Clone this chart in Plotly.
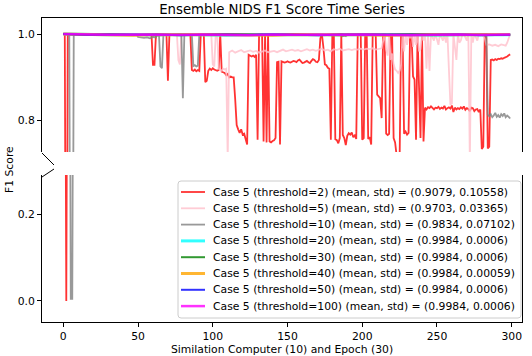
import plotly.graph_objects as go

# threshold=2
red_x = [0, 1, 2, 3, 59, 60, 61, 62, 69, 70, 71, 85, 86, 87, 88, 89, 90, 91, 92, 94,
         95, 96, 97, 98, 99, 100, 101, 102, 103, 104, 105, 106, 107, 108, 109, 110, 111, 112, 113, 114,
         115, 116, 117, 118, 119, 120, 121, 122, 123, 124, 125, 126, 127, 128, 129, 130, 131, 133, 134, 135,
         136, 137, 138, 139, 140, 141, 142, 143, 144, 145, 146, 147, 148, 149, 150, 151, 152, 153, 154, 155,
         156, 157, 158, 159, 160, 161, 162, 163, 164, 165, 166, 167, 168, 169, 170, 171, 172, 173, 174, 175,
         176, 177, 178, 179, 180, 181, 182, 183, 184, 185, 186, 187, 188, 189, 190, 191, 192, 193, 194, 195,
         196, 197, 199, 200, 201, 202, 203, 204, 205, 206, 207, 209, 210, 211, 212, 213, 214, 215, 216, 217,
         218, 219, 220, 221, 222, 223, 224, 225, 226, 227, 228, 229, 230, 231, 232, 233, 234, 235, 236, 237,
         238, 239, 240, 241, 242, 243, 244, 245, 246, 247, 248, 249, 250, 251, 252, 253, 254, 255, 256, 257,
         258, 259, 260, 261, 262, 263, 264, 265, 266, 267, 268, 269, 270, 271, 272, 273, 274, 275, 276, 277,
         278, 279, 280, 281, 282, 283, 284, 285, 286, 287, 288, 289, 290, 291, 292, 293, 294, 295, 296, 297,
         298, 299]
red_y = [1.0, 1.0, 0.0, 1.0, 1.0, 0.929, 0.929, 1.0, 1.0, 0.892, 1.0, 1.0, 0.917, 0.915, 0.918, 0.914, 0.917, 0.915, 1.0, 1.0,
         0.889, 0.892, 0.915, 0.92, 0.917, 0.921, 0.918, 0.916, 0.915, 0.917, 1.0, 0.913, 0.912, 0.91, 0.905, 0.908, 0.9, 0.902, 0.9, 0.9,
         0.85, 0.79, 0.78, 0.772, 0.78, 0.768, 0.77, 0.76, 0.745, 0.952, 0.95, 0.948, 0.95, 0.947, 0.952, 0.756, 1.0, 1.0, 0.752, 1.0,
         0.75, 1.0, 0.752, 0.75, 0.753, 0.755, 0.76, 0.935, 0.936, 0.745, 0.937, 0.936, 0.934, 0.935, 0.937, 0.935, 0.934, 0.936, 0.938, 0.937,
         0.935, 0.939, 0.941, 0.937, 0.933, 0.934, 0.936, 0.938, 0.935, 0.933, 0.938, 0.942, 0.94, 0.936, 0.935, 0.94, 0.99, 1.0, 0.97, 0.93,
         0.928, 0.922, 0.92, 0.756, 1.0, 1.0, 0.757, 0.755, 0.748, 0.76, 1.0, 0.767, 0.76, 0.744, 0.765, 0.771, 0.768, 0.773, 0.762, 0.766,
         0.758, 1.0, 1.0, 0.756, 0.76, 1.0, 1.0, 0.758, 0.762, 0.745, 1.0, 1.0, 0.86, 0.855, 0.852, 0.806, 1.0, 1.0, 0.77, 0.767,
         0.77, 1.0, 1.0, 0.76, 0.75, 0.72, 0.7, 0.705, 1.0, 1.0, 0.77, 0.775, 0.768, 0.772, 1.0, 1.0, 0.902, 0.895, 0.756, 1.0,
         0.885, 0.76, 1.0, 0.752, 0.83, 0.826, 0.831, 0.829, 0.833, 0.828, 0.826, 0.83, 0.829, 0.832, 0.827, 0.83, 0.828, 0.834, 0.826, 0.829,
         0.831, 0.828, 0.835, 0.82, 0.83, 0.826, 0.829, 0.827, 0.831, 0.828, 0.833, 0.825, 0.829, 0.827, 0.822, 0.83, 0.829, 0.822, 0.826, 0.827,
         0.82, 0.826, 0.735, 0.74, 1.0, 1.0, 0.736, 0.74, 0.94, 0.941, 0.939, 0.942, 0.94, 0.943, 0.942, 0.944, 0.943, 0.945, 0.946, 0.948,
         0.951, 0.953]

# threshold=5
pink_x = [0, 76, 77, 78, 79, 99, 100, 101, 102, 103, 104, 105, 106, 107, 108, 109, 110, 111, 113, 115,
          117, 119, 121, 123, 125, 127, 129, 131, 133, 135, 137, 139, 141, 143, 145, 147, 149, 151, 153, 155,
          157, 159, 161, 163, 165, 167, 169, 171, 173, 175, 177, 179, 181, 183, 185, 187, 189, 191, 193, 195,
          197, 199, 201, 203, 205, 207, 209, 211, 213, 215, 216, 217, 218, 219, 220, 221, 222, 223, 224, 225,
          226, 227, 228, 229, 230, 231, 232, 233, 234, 235, 236, 237, 238, 239, 240, 241, 242, 243, 244, 245,
          246, 248, 249, 251, 252, 254, 255, 256, 257, 259, 260, 261, 262, 263, 264, 265, 266, 267, 268, 270,
          271, 272, 273, 274, 275, 277, 278, 280, 282, 283, 285, 287, 289, 291, 293, 295, 296, 297, 298, 299]
pink_y = [1.0, 1.0, 0.94, 0.93, 1.0, 1.0, 0.93, 0.925, 1.0, 1.0, 0.92, 0.918, 0.915, 0.92, 0.918, 0.92, 0.714, 0.958, 0.962, 0.957,
          0.96, 0.963, 0.958, 0.96, 0.962, 0.959, 0.961, 0.957, 0.96, 0.962, 0.958, 0.96, 0.961, 0.958, 0.962, 0.964, 0.96, 0.962, 0.964, 0.961,
          0.963, 0.96, 0.962, 0.965, 0.962, 0.964, 0.961, 0.963, 0.966, 0.962, 0.964, 0.96, 0.965, 0.963, 0.966, 0.962, 0.964, 0.965, 0.963, 0.965,
          0.964, 0.966, 0.964, 0.966, 0.965, 0.967, 0.964, 0.966, 0.967, 1.0, 0.965, 0.95, 1.0, 0.94, 0.955, 0.93, 0.918, 0.915, 0.91, 0.915,
          0.93, 1.0, 0.96, 1.0, 0.975, 1.0, 0.99, 1.0, 0.97, 1.0, 0.975, 1.0, 0.96, 0.965, 1.0, 0.985, 1.0, 0.92, 1.0, 0.915,
          1.0, 0.985, 1.0, 0.975, 1.0, 0.985, 1.0, 0.98, 1.0, 0.837, 0.84, 1.0, 0.97, 0.94, 1.0, 0.98, 0.985, 1.0, 1.0, 0.985,
          1.0, 0.707, 1.0, 0.98, 1.0, 0.985, 1.0, 1.0, 0.99, 0.975, 0.976, 0.973, 0.975, 0.972, 0.976, 0.974, 0.973, 0.98, 0.99, 1.0]

# threshold=10
gray_x = [0, 4, 5, 6, 7, 49, 50, 52, 54, 56, 58, 60, 62, 63, 64, 65, 66, 67, 79, 80,
          81, 86, 87, 88, 89, 90, 91, 186, 187, 188, 189, 190, 283, 284, 285, 286, 287, 288, 289, 290,
          291, 292, 293, 294, 295, 296, 297, 298, 299]
gray_y = [1.0, 1.0, 0.005, 0.005, 1.0, 1.0, 0.993, 0.992, 0.991, 0.992, 0.99, 0.993, 0.992, 1.0, 1.0, 0.925, 0.921, 1.0, 1.0, 0.852,
          1.0, 1.0, 0.926, 0.928, 0.925, 0.927, 1.0, 1.0, 0.995, 0.996, 0.995, 1.0, 1.0, 0.814, 0.81, 0.815, 0.808, 0.812, 0.818, 0.809,
          0.813, 0.807, 0.815, 0.811, 0.817, 0.808, 0.812, 0.809, 0.805]

# thresholds 20..100 stay right under 1.0
flat_x = [0, 16, 31, 47, 62, 78, 93, 109, 124, 140, 155, 171, 186, 202, 217, 233, 248, 264, 279, 299]
t20_y = [1.0, 0.999, 0.998, 0.999, 0.998, 0.999, 0.998, 0.997, 0.998, 0.999, 0.998, 0.999, 0.998, 0.998, 0.999, 0.998, 0.997, 0.998, 0.999, 0.998]
t30_y = [1.0, 0.998, 0.999, 0.998, 0.997, 0.999, 0.998, 0.999, 0.998, 0.998, 0.999, 0.998, 0.997, 0.999, 0.998, 0.999, 0.998, 0.998, 0.999, 0.998]
t40_y = [1.0, 0.999, 0.998, 0.997, 0.999, 0.998, 0.999, 0.998, 0.998, 0.997, 0.999, 0.998, 0.999, 0.998, 0.997, 0.998, 0.999, 0.998, 0.998, 0.999]
t50_y = [1.0, 0.998, 0.999, 0.998, 0.999, 0.997, 0.998, 0.999, 0.998, 0.999, 0.998, 0.997, 0.999, 0.998, 0.998, 0.999, 0.998, 0.999, 0.997, 0.998]
t100_y = [1.0, 0.999, 0.998, 0.999, 0.998, 0.998, 0.999, 0.998, 0.997, 0.999, 0.998, 0.999, 0.998, 0.999, 0.998, 0.997, 0.998, 0.999, 0.998, 0.999]

names = [
    "Case 5 (threshold=2) (mean, std) = (0.9079, 0.10558)",
    "Case 5 (threshold=5) (mean, std) = (0.9703, 0.03365)",
    "Case 5 (threshold=10) (mean, std) = (0.9834, 0.07102)",
    "Case 5 (threshold=20) (mean, std) = (0.9984, 0.0006)",
    "Case 5 (threshold=30) (mean, std) = (0.9984, 0.0006)",
    "Case 5 (threshold=40) (mean, std) = (0.9984, 0.00059)",
    "Case 5 (threshold=50) (mean, std) = (0.9984, 0.0006)",
    "Case 5 (threshold=100) (mean, std) = (0.9984, 0.0006)",
]

series = [
    (red_x, red_y, "#ff0000", 1.8),
    (pink_x, pink_y, "#ffc0cb", 1.8),
    (gray_x, gray_y, "#808080", 1.8),
    (flat_x, t20_y, "#00ffff", 3),
    (flat_x, t30_y, "#008000", 2),
    (flat_x, t40_y, "#ffa500", 3),
    (flat_x, t50_y, "#0000ff", 2),
    (flat_x, t100_y, "#ff00ff", 2.5),
]

W, H = 532, 356
ml, mr, mt, mb = 42, 10, 18, 34
ph = H - mt - mb
pw = W - ml - mr


def px(x):
    return (x - ml) / pw


def py(y):
    return (H - mb - y) / ph


fig = go.Figure()
for xs, ys, color, w in series:
    for xa, ya in (('x', 'y'), ('x2', 'y2')):
        fig.add_trace(go.Scatter(x=xs, y=ys, mode='lines', showlegend=False, hoverinfo='skip',
                                 line=dict(color=color, width=w), opacity=0.8,
                                 xaxis=xa, yaxis=ya))

axis_style = dict(showgrid=False, zeroline=False, showline=True, linecolor='black', linewidth=1,
                  ticks='outside', ticklen=4, tickwidth=1, tickcolor='black', automargin=False,
                  tickfont=dict(size=10.8, color='black'))

fig.update_layout(
    width=W, height=H,
    margin=dict(l=ml, r=mr, t=mt, b=mb, autoexpand=False),
    plot_bgcolor='white', paper_bgcolor='white',
    font=dict(family='DejaVu Sans', size=10.8, color='black'),
    title=dict(text='Ensemble NIDS F1 Score Time Series', x=(ml + pw / 2) / W, xanchor='center',
               y=1 - 9 / H, yanchor='middle', font=dict(size=13.3, color='black')),
    xaxis=dict(axis_style, range=[-14.25, 306.9], tickvals=[0, 50, 100, 150, 200, 250, 300],
               anchor='y', title=dict(text='Similation Computer (10) and Epoch (30)', standoff=3,
                                      font=dict(size=10.8))),
    xaxis2=dict(axis_style, range=[-14.25, 306.9], matches='x', anchor='y2', side='top',
                showticklabels=False, ticks=''),
    yaxis=dict(axis_style, domain=[0, py(175)], range=[-0.0488, 0.291], tickvals=[0.0, 0.2],
               ticktext=['0.0', '0.2'], mirror=True),
    yaxis2=dict(axis_style, domain=[py(152), 1], range=[0.7278, 1.0369], tickvals=[0.8, 1.0],
                ticktext=['0.8', '1.0'], mirror=True),
    showlegend=False,
)

# y label sits between the two panels
fig.add_annotation(text='F1 Score', xref='paper', yref='paper', x=px(9), y=py(170),
                   textangle=-90, showarrow=False, font=dict(size=10.8, color='black'),
                   xanchor='center', yanchor='middle')

# break marks on the left
for x0, y0, x1, y1 in [(42, 153, 54, 165), (54, 169, 42, 177)]:
    fig.add_shape(type='line', xref='paper', yref='paper', x0=px(x0), y0=py(y0), x1=px(x1), y1=py(y1),
                  line=dict(color='black', width=1))

# legend box, matplotlib style (compact rows, rounded frame)
lg_left, lg_right, lg_top, lg_bottom = 178, 521, 181, 318
row0, row_h = 192, 16.3
rx, ry = 3 / pw, 3 / ph
L, R, T, B = px(lg_left), px(lg_right), py(lg_top), py(lg_bottom)
box_path = (f"M {L + rx},{B} L {R - rx},{B} Q {R},{B} {R},{B + ry} L {R},{T - ry} Q {R},{T} {R - rx},{T} "
            f"L {L + rx},{T} Q {L},{T} {L},{T - ry} L {L},{B + ry} Q {L},{B} {L + rx},{B} Z")
fig.add_shape(type='path', path=box_path, xref='paper', yref='paper',
              fillcolor='rgba(255,255,255,0.8)', line=dict(color='#cccccc', width=1), layer='above')
for i, (name, (xs, ys, color, w)) in enumerate(zip(names, series)):
    yy = py(row0 + i * row_h)
    fig.add_shape(type='line', xref='paper', yref='paper', x0=px(181), x1=px(205), y0=yy, y1=yy,
                  line=dict(color=color, width=w), opacity=0.8, layer='above')
    fig.add_annotation(text=name, xref='paper', yref='paper', x=px(211), y=yy, showarrow=False,
                       xanchor='left', yanchor='middle', font=dict(size=10.8, color='black'))

# page body has a default 8px margin; drop it so the figure sits at the window origin
fig.write_html("out.html", config={'displayModeBar': False},
               post_script="document.body.style.margin='0';")
